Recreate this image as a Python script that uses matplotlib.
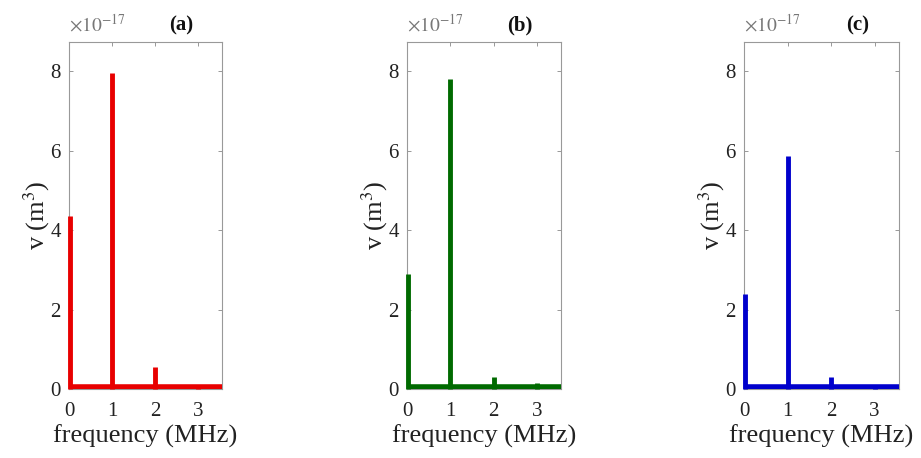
import matplotlib.pyplot as plt

plt.rcParams['font.family'] = ['Liberation Serif', 'DejaVu Serif']
plt.rcParams['mathtext.fontset'] = 'stix'

# spectral components, values in units of 1e-17 m^3
freq = [0, 1, 2, 3]
amp_a = [4.35, 7.95, 0.55, 0.08]
amp_b = [2.9, 7.8, 0.3, 0.15]
amp_c = [2.4, 5.85, 0.3, 0.03]
baseline = 0.06
panels = ['(a)', '(b)', '(c)']
colors = ['#e80000', '#006a00', '#0000cc']
lefts = [69, 407, 744]
widths = [153, 154, 155]

fig = plt.figure(figsize=(9.21, 4.58), dpi=100)

for amps, tag, col, l, w in zip([amp_a, amp_b, amp_c], panels, colors, lefts, widths):
    ax = fig.add_axes([l / 921, 69 / 458, w / 921, 347 / 458])
    xs = [f + 0.02 if f == 0 else f for f in freq]
    ax.vlines(xs, 0, amps, color=col, lw=3.5, clip_on=False, zorder=3)
    ax.plot([0, 3.56], [baseline, baseline], color=col, lw=4,
            solid_capstyle='butt', zorder=3)
    ax.set_xlim(0, 3.56)
    ax.set_ylim(0, 8.73)
    ax.set_xticks([0, 1, 2, 3])
    ax.set_yticks([0, 2, 4, 6, 8])
    ax.tick_params(direction='in', top=True, right=True, labelsize=15,
                   length=3, width=0.6, colors='#888888', labelcolor='#222222')
    ax.tick_params(axis='x', pad=9)
    ax.tick_params(axis='y', pad=6)
    for s in ax.spines.values():
        s.set_color('#999999')
        s.set_linewidth(0.8)
    ax.set_xlabel('frequency (MHz)', fontsize=19, color='#222222', labelpad=3)
    ax.set_ylabel(r'v (m$^3$)', fontsize=19, color='#222222', labelpad=-1)
    ax.text(0.0, 1.02, r'$\times10^{-17}$', transform=ax.transAxes, fontsize=14,
            color='#777777', ha='left', va='bottom')
    ax.text(0.73, 1.02, tag, transform=ax.transAxes, fontsize=15,
            fontweight='bold', color='#111111', ha='center', va='bottom')

fig.savefig('out.png', dpi=100)
